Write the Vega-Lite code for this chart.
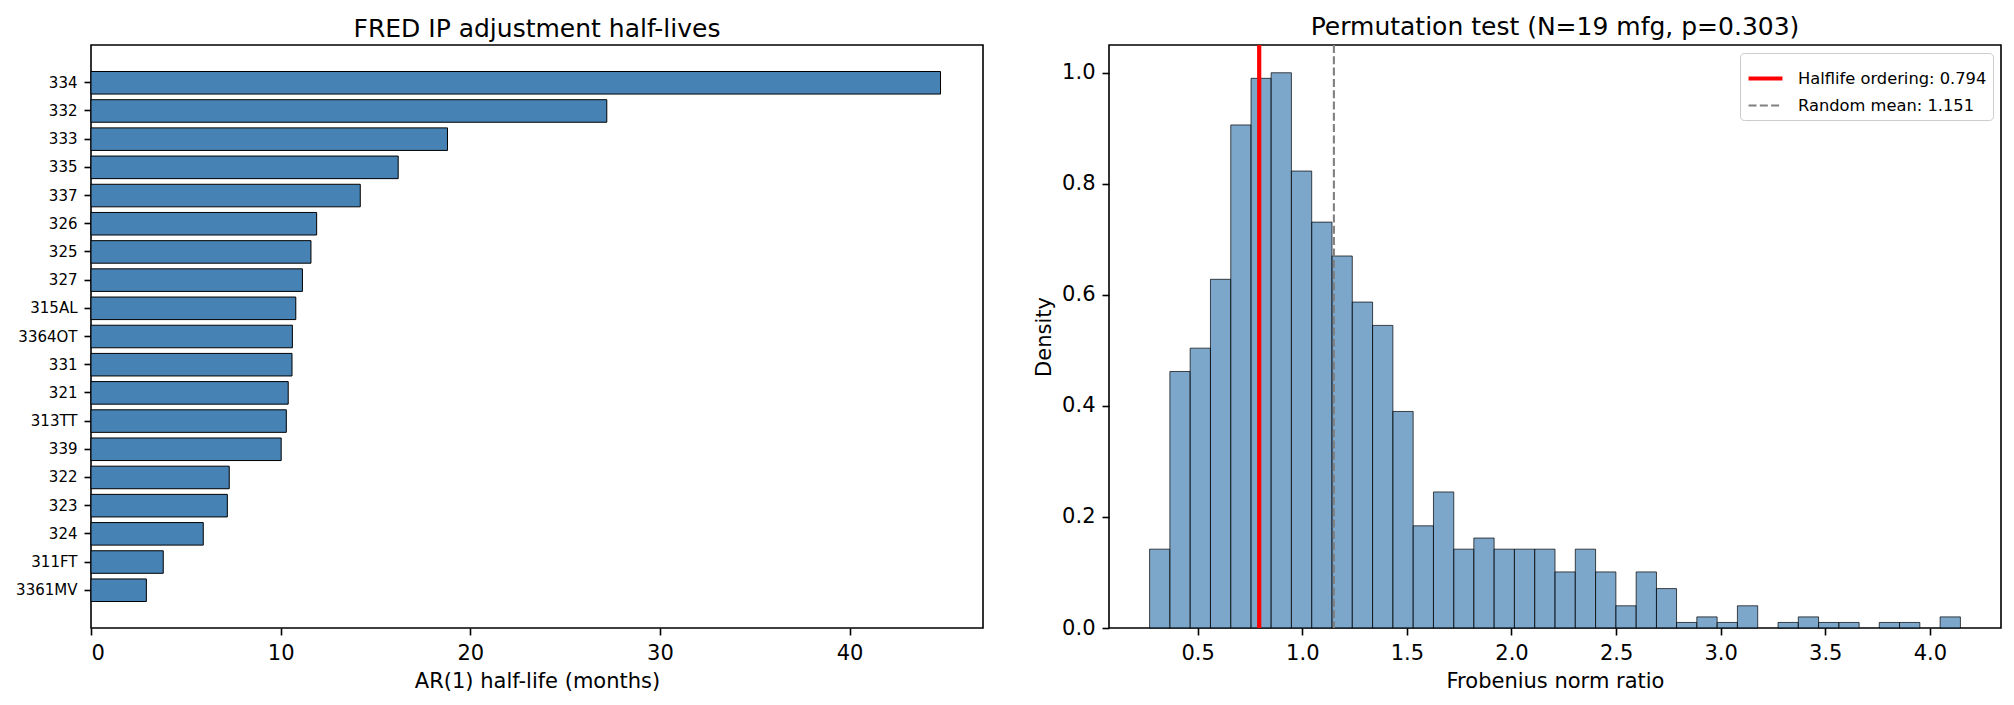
{
  "$schema": "https://vega.github.io/schema/vega-lite/v6.json",
  "background": "white",
  "padding": {"left": 14, "top": 14, "right": 10, "bottom": 5},
  "bounds": "flush",
  "spacing": 126,
  "resolve": {"legend": {"color": "independent", "strokeDash": "independent", "strokeWidth": "independent"}},
  "datasets": {
    "halflives": [
      {"series": "334", "halflife": 44.8},
      {"series": "332", "halflife": 27.2},
      {"series": "333", "halflife": 18.8},
      {"series": "335", "halflife": 16.2},
      {"series": "337", "halflife": 14.2},
      {"series": "326", "halflife": 11.9},
      {"series": "325", "halflife": 11.6},
      {"series": "327", "halflife": 11.15},
      {"series": "315AL", "halflife": 10.8},
      {"series": "3364OT", "halflife": 10.62},
      {"series": "331", "halflife": 10.6},
      {"series": "321", "halflife": 10.4},
      {"series": "313TT", "halflife": 10.3},
      {"series": "339", "halflife": 10.03},
      {"series": "322", "halflife": 7.29},
      {"series": "323", "halflife": 7.19},
      {"series": "324", "halflife": 5.92},
      {"series": "311FT", "halflife": 3.81},
      {"series": "3361MV", "halflife": 2.92}
    ],
    "hist": [
      {"lo": 0.270, "hi": 0.367, "density": 0.142},
      {"lo": 0.367, "hi": 0.464, "density": 0.462},
      {"lo": 0.464, "hi": 0.561, "density": 0.504},
      {"lo": 0.561, "hi": 0.658, "density": 0.628},
      {"lo": 0.658, "hi": 0.755, "density": 0.906},
      {"lo": 0.755, "hi": 0.851, "density": 0.990},
      {"lo": 0.851, "hi": 0.948, "density": 1.000},
      {"lo": 0.948, "hi": 1.045, "density": 0.823},
      {"lo": 1.045, "hi": 1.142, "density": 0.731},
      {"lo": 1.142, "hi": 1.239, "density": 0.670},
      {"lo": 1.239, "hi": 1.336, "density": 0.587},
      {"lo": 1.336, "hi": 1.433, "density": 0.545},
      {"lo": 1.433, "hi": 1.530, "density": 0.390},
      {"lo": 1.530, "hi": 1.627, "density": 0.184},
      {"lo": 1.627, "hi": 1.724, "density": 0.245},
      {"lo": 1.724, "hi": 1.820, "density": 0.142},
      {"lo": 1.820, "hi": 1.917, "density": 0.162},
      {"lo": 1.917, "hi": 2.014, "density": 0.142},
      {"lo": 2.014, "hi": 2.111, "density": 0.142},
      {"lo": 2.111, "hi": 2.208, "density": 0.142},
      {"lo": 2.208, "hi": 2.305, "density": 0.101},
      {"lo": 2.305, "hi": 2.402, "density": 0.142},
      {"lo": 2.402, "hi": 2.499, "density": 0.101},
      {"lo": 2.499, "hi": 2.596, "density": 0.040},
      {"lo": 2.596, "hi": 2.693, "density": 0.101},
      {"lo": 2.693, "hi": 2.789, "density": 0.071},
      {"lo": 2.789, "hi": 2.886, "density": 0.010},
      {"lo": 2.886, "hi": 2.983, "density": 0.020},
      {"lo": 2.983, "hi": 3.080, "density": 0.010},
      {"lo": 3.080, "hi": 3.177, "density": 0.040},
      {"lo": 3.274, "hi": 3.371, "density": 0.010},
      {"lo": 3.371, "hi": 3.468, "density": 0.020},
      {"lo": 3.468, "hi": 3.565, "density": 0.010},
      {"lo": 3.565, "hi": 3.662, "density": 0.010},
      {"lo": 3.758, "hi": 3.855, "density": 0.010},
      {"lo": 3.855, "hi": 3.952, "density": 0.010},
      {"lo": 4.049, "hi": 4.146, "density": 0.020}
    ],
    "refs": [
      {"label": "Halflife ordering: 0.794", "ratio": 0.794},
      {"label": "Random mean: 1.151", "ratio": 1.151}
    ]
  },
  "hconcat": [
    {
      "width": 892,
      "height": 583,
      "title": {"text": "FRED IP adjustment half-lives"},
      "data": {"name": "halflives"},
      "mark": {"type": "bar", "color": "#4682b4", "stroke": "black", "strokeWidth": 1},
      "encoding": {
        "y": {
          "field": "series",
          "type": "nominal",
          "sort": null,
          "title": null,
          "scale": {"paddingInner": 0.2, "paddingOuter": 0.94},
          "axis": {"labelFontSize": 15}
        },
        "x": {
          "field": "halflife",
          "type": "quantitative",
          "title": "AR(1) half-life (months)",
          "scale": {"domain": [0, 47.04], "nice": false, "zero": false},
          "axis": {"values": [0, 10, 20, 30, 40]}
        }
      }
    },
    {
      "width": 892,
      "height": 583,
      "title": {"text": "Permutation test (N=19 mfg, p=0.303)"},
      "layer": [
        {
          "data": {"name": "hist"},
          "mark": {
            "type": "bar",
            "color": "#4682b4",
            "fillOpacity": 0.7,
            "stroke": "black",
            "strokeOpacity": 0.7,
            "strokeWidth": 1
          },
          "encoding": {
            "x": {
              "field": "lo",
              "type": "quantitative",
              "title": "Frobenius norm ratio",
              "scale": {"domain": [0.076, 4.34], "nice": false, "zero": false},
              "axis": {"values": [0.5, 1.0, 1.5, 2.0, 2.5, 3.0, 3.5, 4.0], "format": ".1f"}
            },
            "x2": {"field": "hi"},
            "y": {
              "field": "density",
              "type": "quantitative",
              "title": "Density",
              "scale": {"domain": [0, 1.05], "nice": false},
              "axis": {"values": [0, 0.2, 0.4, 0.6, 0.8, 1.0], "format": ".1f"}
            },
            "y2": {"datum": 0}
          }
        },
        {
          "data": {"name": "refs"},
          "mark": {"type": "rule"},
          "encoding": {
            "x": {"field": "ratio", "type": "quantitative"},
            "color": {
              "field": "label",
              "type": "nominal",
              "sort": null,
              "scale": {"domain": ["Halflife ordering: 0.794", "Random mean: 1.151"], "range": ["#ff0000", "#808080"]},
              "legend": {
                "title": null,
                "orient": "top-right",
                "offset": 8,
                "symbolType": "stroke",
                "symbolSize": 1150,
                "labelFontSize": 16.3,
                "labelLimit": 400,
                "labelOffset": 13,
                "rowPadding": -3,
                "padding": 6,
                "strokeColor": "#cccccc",
                "fillColor": "rgba(255,255,255,0.8)",
                "cornerRadius": 4
              }
            },
            "strokeDash": {
              "field": "label",
              "type": "nominal",
              "scale": {"domain": ["Halflife ordering: 0.794", "Random mean: 1.151"], "range": [[1, 0], [8, 3.3]]},
              "legend": null
            },
            "strokeWidth": {
              "field": "label",
              "type": "nominal",
              "scale": {"type": "ordinal", "domain": ["Halflife ordering: 0.794", "Random mean: 1.151"], "range": [4.2, 2.1]},
              "legend": null
            }
          }
        }
      ]
    }
  ],
  "config": {
    "font": "DejaVu Sans",
    "view": {"stroke": "black", "strokeWidth": 1.6},
    "title": {"fontSize": 25, "fontWeight": "normal", "color": "black", "offset": 3},
    "axis": {
      "domain": false,
      "grid": false,
      "ticks": true,
      "tickColor": "black",
      "tickSize": 7,
      "tickWidth": 1.6,
      "labelFontSize": 21,
      "labelColor": "black",
      "labelPadding": 7,
      "titleFontSize": 21,
      "titleFontWeight": "normal",
      "titleColor": "black",
      "titlePadding": 7
    },
    "legend": {"labelColor": "black"}
  }
}
